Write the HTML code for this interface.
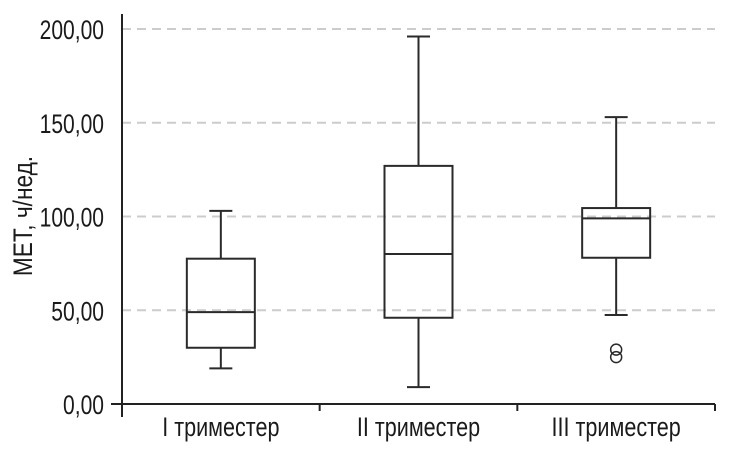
<!DOCTYPE html>
<html><head><meta charset="utf-8"><style>
html,body{margin:0;padding:0;background:#fff;}
svg{display:block;font-family:"Liberation Sans","DejaVu Sans",sans-serif;}
</style></head><body>
<svg id="chart" width="733" height="455" viewBox="0 0 733 455"></svg>
<script>
const categories = ["I триместер", "II триместер", "III триместер"];
const whiskerHigh = [103, 196, 153];
const q3Values = [77.5, 127, 104.5];
const medians = [49, 80, 99];
const q1Values = [30, 46, 78];
const whiskerLow = [19, 9, 47.5];
const outliers = [[], [], [29, 25]];
const yTicks = [0, 50, 100, 150, 200];
const yTickLabels = ["0,00", "50,00", "100,00", "150,00", "200,00"];

const NS = "http://www.w3.org/2000/svg";
const svg = document.getElementById("chart");
const x0 = 122, x1 = 715, yBase = 404, yTop = 29;
const y = v => yBase - (v / 200) * (yBase - yTop);
const band = (x1 - x0) / categories.length;
const xc = i => x0 + band * (i + 0.5);
function el(tag, attrs) {
  const e = document.createElementNS(NS, tag);
  for (const k in attrs) e.setAttribute(k, attrs[k]);
  svg.appendChild(e);
  return e;
}
const stroke = "#2a2a2a";
yTicks.forEach((t, i) => {
  if (t > 0) {
    const g = el("line", {x1: x0, x2: x1, y1: y(t), y2: y(t), stroke: "#ccc", "stroke-width": 2, "stroke-dasharray": "9,6"});
    
    
  }
  const lb = el("text", {x: 0, y: 0, "font-size": 27, "text-anchor": "end", fill: "#1a1a1a", transform: `translate(104,${y(t) + 10}) scale(0.78,1)`});
  lb.textContent = yTickLabels[i];
  
  
});
const ya = el("line", {x1: x0, x2: x0, y1: 14, y2: 417, stroke: "#222", "stroke-width": 2});


const xa = el("line", {x1: 111, x2: x1, y1: yBase, y2: yBase, stroke: "#222", "stroke-width": 2});


for (let i = 1; i <= categories.length; i++) {
  const tk = el("line", {x1: x0 + band * i, x2: x0 + band * i, y1: yBase, y2: yBase + 7, stroke: "#222", "stroke-width": 2});
  
  
}
const yt = el("text", {x: 0, y: 0, "font-size": 27, "text-anchor": "middle", fill: "#1a1a1a", transform: `translate(32,216) rotate(-90) scale(0.84,1)`});
yt.textContent = "МЕТ, ч/нед.";


const bw = 68, cw = 23;
categories.forEach((c, i) => {
  const cx = xc(i);
  const p = {stroke: stroke, "stroke-width": 2, fill: "none"};
  const w1 = el("line", Object.assign({x1: cx, x2: cx, y1: y(whiskerHigh[i]), y2: y(q3Values[i])}, p));
  
  
  const c1 = el("line", Object.assign({x1: cx - cw / 2, x2: cx + cw / 2, y1: y(whiskerHigh[i]), y2: y(whiskerHigh[i])}, p));
  
  
  const w2 = el("line", Object.assign({x1: cx, x2: cx, y1: y(q1Values[i]), y2: y(whiskerLow[i])}, p));
  
  
  const c2 = el("line", Object.assign({x1: cx - cw / 2, x2: cx + cw / 2, y1: y(whiskerLow[i]), y2: y(whiskerLow[i])}, p));
  
  
  const b = el("rect", Object.assign({x: cx - bw / 2, width: bw, y: y(q3Values[i]), height: y(q1Values[i]) - y(q3Values[i])}, p));
  
  
  const m = el("line", Object.assign({x1: cx - bw / 2, x2: cx + bw / 2, y1: y(medians[i]), y2: y(medians[i])}, p));
  
  
  outliers[i].forEach(v => {
    const o = el("circle", Object.assign({cx: cx, cy: y(v), r: 5.5}, {stroke: stroke, "stroke-width": 1.5, fill: "none"}));
    
    
  });
  const t = el("text", {x: 0, y: 0, "font-size": 27, "text-anchor": "middle", fill: "#1a1a1a", transform: `translate(${cx},436) scale(0.8,1)`});
  t.textContent = c;
  
  
});
</script>
</body></html>
